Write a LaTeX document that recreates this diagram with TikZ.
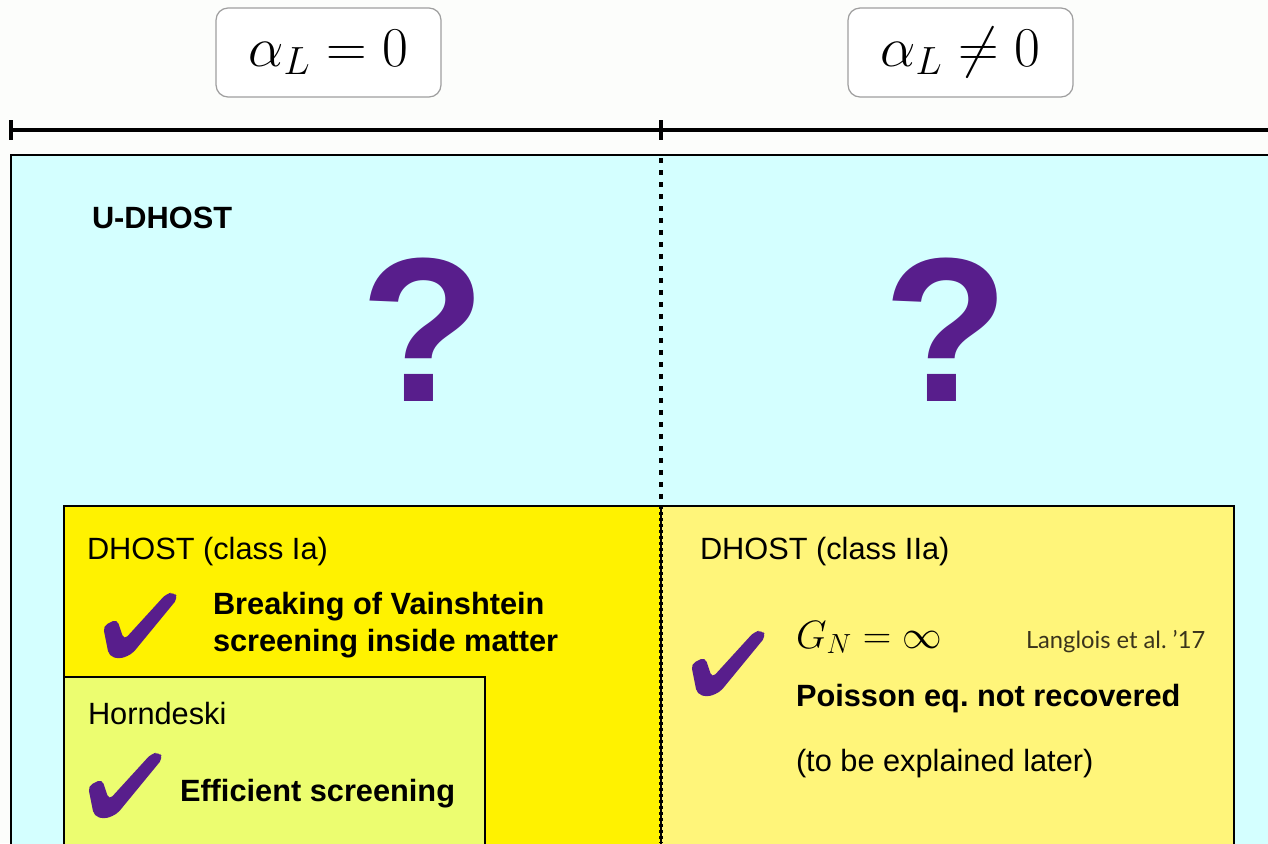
\RequirePackage{fix-cm}
\documentclass[tikz,border=0pt]{standalone}
\usepackage{fontspec}
\setsansfont{Liberation Sans}
\newfontfamily\citefont{Lato}
\definecolor{udhost}{RGB}{212,255,255}
\definecolor{dhostI}{RGB}{255,242,0}
\definecolor{dhostII}{RGB}{255,245,122}
\definecolor{horn}{RGB}{236,253,112}
\definecolor{qpurple}{RGB}{88,30,140}
\definecolor{citegray}{RGB}{58,52,28}
\definecolor{paper}{RGB}{252,253,251}
\begin{document}
\begin{tikzpicture}[x=0.02cm, y=-0.02cm,
    every node/.style={inner sep=0pt, outer sep=0pt},
    plain/.style={font=\sffamily\fontsize{17.5}{21}\selectfont, anchor=base west},
    strong/.style={font=\sffamily\bfseries\fontsize{17.5}{21}\selectfont, anchor=base west},
    alphabox/.style={draw=gray!75, fill=white, line width=0.7pt, rounded corners=0.24cm,
        minimum width=4.5cm, minimum height=1.78cm, font=\fontsize{32}{36}\selectfont},
    qmark/.style={font=\sffamily\bfseries\fontsize{117}{120}\selectfont, text=qpurple},
    pics/checkmark/.style={code={
        \fill[qpurple, rounded corners=0.1cm] (3,36) -- (17,29) -- (24,50) -- (66,4) -- (74,2)
            -- (78,8) -- (32,64) -- (20,69) -- (9,66) -- cycle;}}]
    \useasboundingbox (0,0) rectangle (1268,843);
    \fill[paper] (0,0) rectangle (1268,843);

    % 标题框
    \node[alphabox] (azero) at (328.5,52.5) {$\alpha_L = 0$};
    \node[alphabox] (anonzero) at (960.5,52.5) {$\alpha_L \neq 0$};

    % 横线与刻度
    \coordinate (axl) at (11,130);
    \coordinate (axm) at (661,130);
    \coordinate (axr) at (1268,130);
    \draw[line width=0.08cm] (axl) -- (axr);
    \draw[line width=0.08cm] (11,120) -- (11,140);
    \draw[line width=0.08cm] (661,120) -- (661,140);

    % 各区域
    \fill[udhost] (11,155) rectangle (1290,860);
    \draw[line width=0.8pt] (1290,155) -- (11,155) -- (11,860);
    \filldraw[fill=dhostI, draw=black, line width=0.6pt] (64,506) rectangle (661,860);
    \filldraw[fill=dhostII, draw=black, line width=0.6pt] (661,506) rectangle (1234,860);
    \filldraw[fill=horn, draw=black, line width=0.6pt] (64,677) rectangle (485,860);

    % 虚线分隔
    \draw[line width=0.075cm, dash pattern=on 0.1cm off 0.14cm] (661,158) -- (661,506);
    \draw[line width=0.075cm, dash pattern=on 0.06cm off 0.06cm] (661,506) -- (661,843);

    % 文字
    \node[strong] (uname) at (92,228) {U-DHOST};
    \node[qmark] (qleft) at (423,330) {?};
    \node[qmark] (qright) at (946,330) {?};

    \node[plain] (ia) at (87,559) {DHOST (class Ia)};
    \node[strong] (vain1) at (213,614) {Breaking of Vainshtein};
    \node[strong] (vain2) at (213,651) {screening inside matter};
    \node[plain] (hname) at (88,724) {Horndeski};
    \node[strong] (eff) at (180,801) {Efficient screening};

    \node[plain] (iia) at (700,559) {DHOST (class IIa)};
    \node[anchor=base west, font=\fontsize{22.5}{26}\selectfont] (gn) at (796,648) {$G_N = \infty$};
    \node[anchor=base west, font=\citefont\fontsize{13.5}{16}\selectfont, text=citegray] (cite) at (1026,648) {Langlois et al.\ ’17};
    \node[strong] (poisson) at (796,706) {Poisson eq.\ not recovered};
    \node[plain] (later) at (796,771) {(to be explained later)};

    % 勾号
    \pic at (100,590) {checkmark};
    \pic at (85,750) {checkmark};
    \pic at (688,628) {checkmark};
\end{tikzpicture}
\end{document}
